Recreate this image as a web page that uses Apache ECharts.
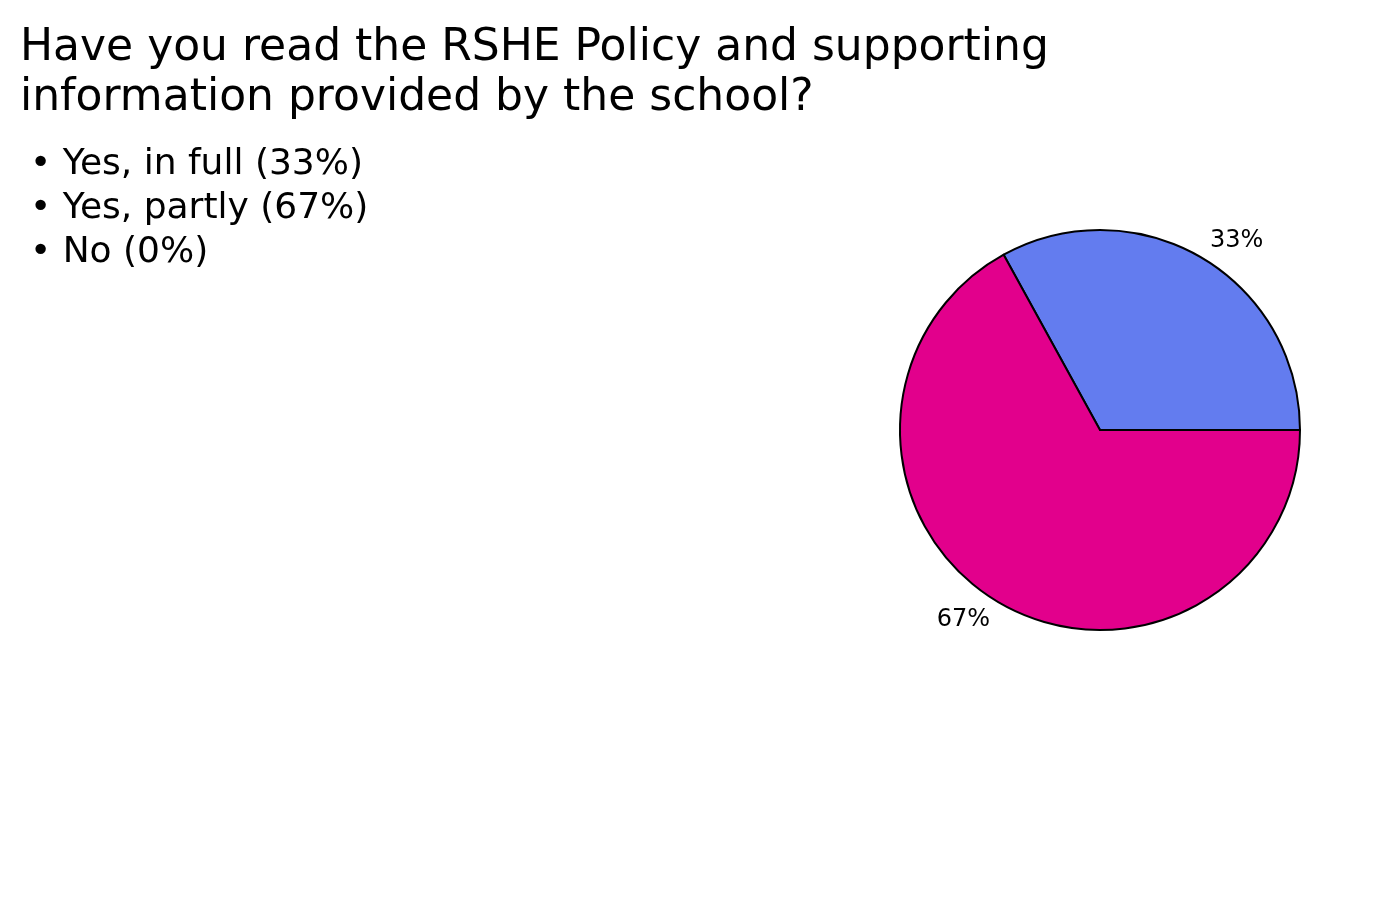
<!DOCTYPE html>
<html>
<head>
    <meta charset='utf-8'>
    <script src="https://cdn.jsdelivr.net/npm/echarts@6/dist/echarts.min.js"></script>
</head>
<body>
<style>
    html, body, #main {
        width: 100%;
        height: 100%;
        margin: 0;
        padding: 0;
        background: #fff;
    }
</style>
<div id="main"></div>
<script>
    var categories = ['Yes, in full', 'Yes, partly', 'No'];
    var values = [33, 67, 0];
    var colors = ['#637cef', '#e2008c', '#888888'];
    var titleText = 'Have you read the RSHE Policy and supporting\ninformation provided by the school?';

    var chart = echarts.init(document.getElementById('main'));

    var data = [];
    for (var i = 0; i < categories.length; i++) {
        data.push({
            name: categories[i],
            value: values[i],
            itemStyle: { color: colors[i] },
            label: { show: values[i] > 0 }
        });
    }

    chart.setOption({
        animation: false,
        textStyle: { fontFamily: 'DejaVu Sans' },
        title: {
            text: titleText,
            left: 15,
            top: 19,
            textStyle: {
                fontFamily: 'DejaVu Sans',
                fontWeight: 'normal',
                fontSize: 44,
                lineHeight: 50,
                color: '#000'
            }
        },
        legend: {
            orient: 'vertical',
            left: 20,
            top: 142,
            icon: 'none',
            itemWidth: 0,
            itemHeight: 10,
            itemGap: 8,
            selectedMode: false,
            data: categories,
            formatter: function (name) {
                var idx = categories.indexOf(name);
                return '\u2022 ' + name + ' (' + values[idx] + '%)';
            },
            textStyle: {
                fontFamily: 'DejaVu Sans',
                fontSize: 36,
                color: '#000',
                lineHeight: 34
            }
        },
        series: [{
            type: 'pie',
            center: [1100, 430],
            radius: 200,
            startAngle: 0,
            clockwise: false,
            avoidLabelOverlap: false,
            itemStyle: {
                borderColor: '#000',
                borderWidth: 2
            },
            label: {
                position: 'outside',
                formatter: '{d}%',
                fontFamily: 'DejaVu Sans',
                fontSize: 24,
                color: '#000',
                distanceToLabelLine: -2
            },
            labelLine: {
                show: false,
                length: 20,
                length2: 0
            },
            data: data
        }]
    });

    window.onresize = function () {
        chart.resize();
    };
</script>
</body>
</html>
